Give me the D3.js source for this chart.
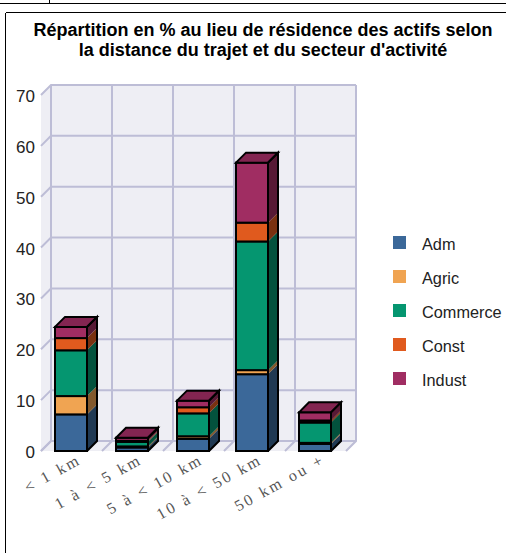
<!DOCTYPE html>
<html><head><meta charset="utf-8">
<script src="https://cdn.jsdelivr.net/npm/d3@7/dist/d3.min.js"></script>
<style>html,body{margin:0;padding:0;background:#fff}svg{display:block}</style></head>
<body><svg id="c" width="506" height="553"></svg>
<script>
const categories = ["< 1 km","1 à < 5 km","5 à < 10 km","10 à < 50 km","50 km ou +"];
const seriesNames = ["Adm","Agric","Commerce","Const","Indust"];
const colors = ["#3b6899","#f0a452","#059670","#e05a1e","#a02d62"];
const Adm = [7.2,0.7,2.4,15.1,1.4];
const Agric = [3.6,0.2,0.5,0.8,0.2];
const Commerce = [9.0,0.9,4.5,25.3,4.0];
const Const = [2.4,0.2,1.2,3.7,0.4];
const Indust = [2.2,0.6,1.3,11.8,1.6];
const yTicks = [0,10,20,30,40,50,60,70];
const title = ["Répartition en % au lieu de résidence des actifs selon","la distance du trajet et du secteur d'activité"];

const svg = d3.select("#c");
const seriesVals = [Adm,Agric,Commerce,Const,Indust];
const dx = 10, dy = 10, barW = 32;
const y = d3.scaleLinear().domain([0,70]).range([451,95]);
const x = d3.scaleOrdinal().domain(categories).range([55,116,177,236,299]);
const gridX = d3.range(categories.length+1).map(i=>41+i*61);

// page frame
const frame = svg.append("g").attr("stroke","#000").attr("stroke-width",1).attr("shape-rendering","crispEdges");
[[0,3.5,506,3.5],[49.5,0,49.5,3],[5.5,12.5,506,12.5],[5.5,12.5,5.5,553]].forEach(l=>frame.append("line").attr("x1",l[0]).attr("y1",l[1]).attr("x2",l[2]).attr("y2",l[3]));

title.forEach((t,i)=>svg.append("text").text(t).attr("x",263).attr("y",36+i*20).attr("text-anchor","middle")
  .attr("font-family","Liberation Sans").attr("font-weight","bold").attr("font-size",18).attr("fill","#000"));

// walls
const wall="#eeeef4", grid="#bdbdd6";
const g = svg.append("g");
g.append("path").attr("fill",wall).attr("d",`M${gridX[0]},${y(0)}L${gridX[0]+dx},${y(0)-dy}V${y(70)-dy}L${gridX[0]},${y(70)}Z`);
g.append("path").attr("fill",wall).attr("d",`M${gridX[0]},${y(0)}L${gridX[0]+dx},${y(0)-dy}H${gridX[5]+dx}L${gridX[5]},${y(0)}Z`);
g.append("rect").attr("fill",wall).attr("x",gridX[0]+dx).attr("y",y(70)-dy).attr("width",gridX[5]-gridX[0]).attr("height",y(0)-y(70));
const gl = g.append("g").attr("stroke",grid).attr("stroke-width",2).attr("fill","none");
yTicks.forEach(t=>{
  gl.append("path").attr("d",`M${gridX[0]},${y(t)}L${gridX[0]+dx},${y(t)-dy}H${gridX[5]+dx}`);
});
gridX.forEach(px=>{
  gl.append("path").attr("d",`M${px},${y(0)}L${px+dx},${y(0)-dy}V${y(70)-dy}`);
});

// y labels
yTicks.forEach(t=>svg.append("text").text(t).attr("x",35).attr("y",y(t)+7).attr("text-anchor","end")
  .attr("font-family","Liberation Sans").attr("font-size",17).attr("fill","#222"));

// x labels
categories.forEach(c=>{
  const cx=x(c)+barW/2+11, cy=y(0)+12;
  svg.append("text").text(c).attr("transform",`translate(${cx},${cy}) rotate(-29)`).attr("text-anchor","end")
    .attr("font-family","Liberation Serif").attr("font-size",16).attr("letter-spacing",2.4).attr("word-spacing",1).attr("fill","#555");
});

// bars
const stack = categories.map((c,i)=>{let s=0;return seriesVals.map((v,k)=>{const r={c,k,y0:s,y1:s+v[i]};s=r.y1;return r;});});
const bars = svg.append("g").attr("stroke","#000").attr("stroke-width",2).attr("stroke-linejoin","miter");
stack.forEach(col=>{
  col.forEach(d=>{
    const l=x(d.c), w=barW, t=y(d.y1), b=y(d.y0), base=d3.color(colors[d.k]);
    bars.append("path").attr("fill",base.darker(1.7).formatHex()).attr("stroke","none")
      .attr("d",`M${l+w},${b}L${l+w+dx},${b-dy}V${t-dy}L${l+w},${t}Z`);
    bars.append("rect").attr("x",l).attr("y",t).attr("width",w).attr("height",b-t).attr("fill",base.formatHex());
  });
  const top=col[col.length-1], l=x(top.c), w=barW, t=y(top.y1);
  bars.append("path").attr("fill",d3.color(colors[top.k]).darker(0.55).formatHex())
    .attr("d",`M${l},${t}L${l+dx},${t-dy}H${l+w+dx}L${l+w},${t}Z`);
  bars.append("path").attr("fill","none").attr("d",`M${l+w},${y(0)}L${l+w+dx},${y(0)-dy}V${t-dy}L${l+w},${t}`);
});

// legend
seriesNames.forEach((n,i)=>{
  const ly=236+i*34;
  svg.append("rect").attr("x",393).attr("y",ly).attr("width",13).attr("height",13).attr("fill",colors[i]);
  svg.append("text").text(n).attr("x",422).attr("y",ly+14).attr("font-family","Liberation Sans").attr("font-size",16.3).attr("fill","#222");
});
</script></body></html>
